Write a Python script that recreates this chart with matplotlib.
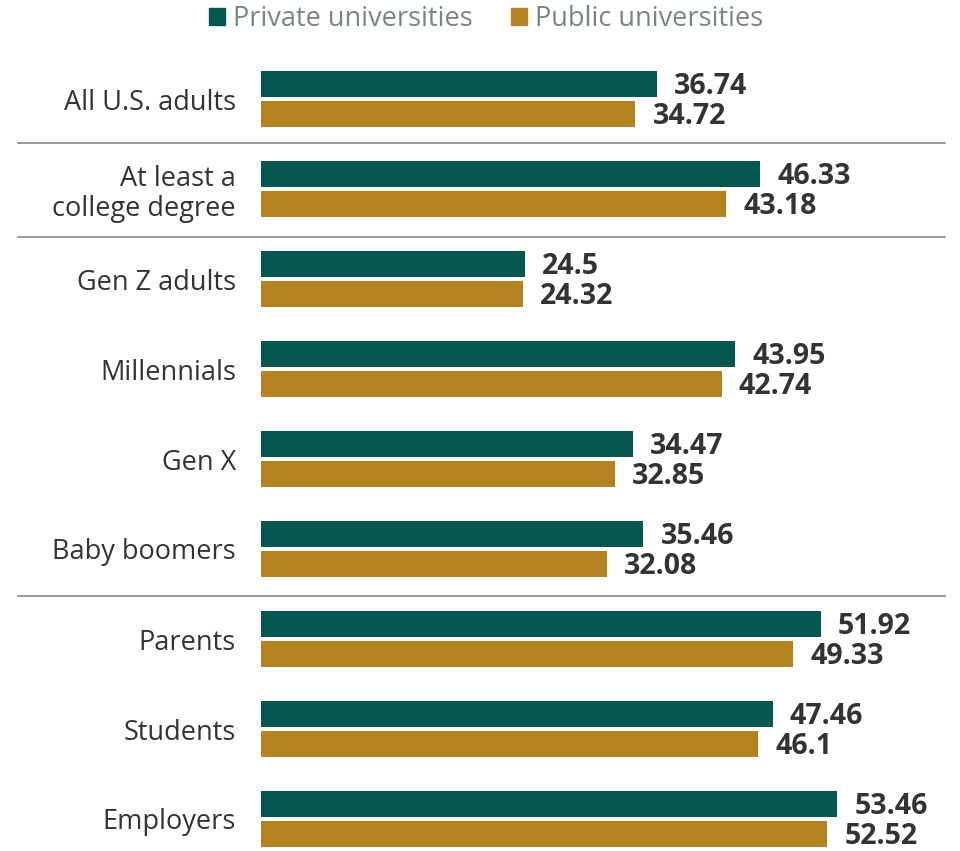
import matplotlib.pyplot as plt
import matplotlib.transforms as mtransforms
from matplotlib.patches import Patch
import numpy as np

plt.rcParams['font.family'] = ['Open Sans', 'DejaVu Sans']

groups = ['All U.S. adults', 'At least a\ncollege degree', 'Gen Z adults', 'Millennials',
          'Gen X', 'Baby boomers', 'Parents', 'Students', 'Employers']
private = [36.74, 46.33, 24.5, 43.95, 34.47, 35.46, 51.92, 47.46, 53.46]
public = [34.72, 43.18, 24.32, 42.74, 32.85, 32.08, 49.33, 46.1, 52.52]
separators = [0.49, 1.53, 5.52]

green = '#07564F'
gold = '#B38321'
dark = '#333333'

W, H = 960, 851
fig = plt.figure(figsize=(W / 100, H / 100), dpi=100)
ax = fig.add_axes([261 / W, 0, (945 - 261) / W, (851 - 54) / H])

y = np.arange(len(groups))
bh = 0.29
off = 0.167
ax.barh(y - off, private, height=bh, color=green)
ax.barh(y + off, public, height=bh, color=gold)

for yi, v in zip(y, private):
    ax.text(v + 1.6, yi - off - 0.01, f'{v:g}', va='center_baseline', ha='left',
            fontsize=20.5, fontweight='bold', color=dark)
for yi, v in zip(y, public):
    ax.text(v + 1.6, yi + off - 0.01, f'{v:g}', va='center_baseline', ha='left',
            fontsize=20.5, fontweight='bold', color=dark)

ax.set_xlim(0, (945 - 261) / 10.78)
ax.set_ylim((851 - 99) / 90, -0.5)
ax.set_yticks(y)
ax.set_yticklabels(groups, fontsize=19.5, color=dark, linespacing=1.1)
ax.tick_params(axis='y', length=0, pad=18)
ax.set_xticks([])
for s in ax.spines.values():
    s.set_visible(False)

trans = mtransforms.blended_transform_factory(fig.transFigure, ax.transData)
for s in separators:
    ax.plot([18 / W, 945 / W], [s, s], transform=trans, color='#888888',
            lw=1.2, clip_on=False)

handles = [Patch(color=green, label='Private universities'),
           Patch(color=gold, label='Public universities')]
fig.legend(handles=handles, loc='center', bbox_to_anchor=(486 / W, 1 - 19 / H),
           ncol=2, frameon=False, fontsize=19.5, labelcolor='#7A8585',
           handlelength=0.6, handleheight=0.6, handletextpad=0.3, columnspacing=1.4)

fig.savefig('out.png', dpi=100)
